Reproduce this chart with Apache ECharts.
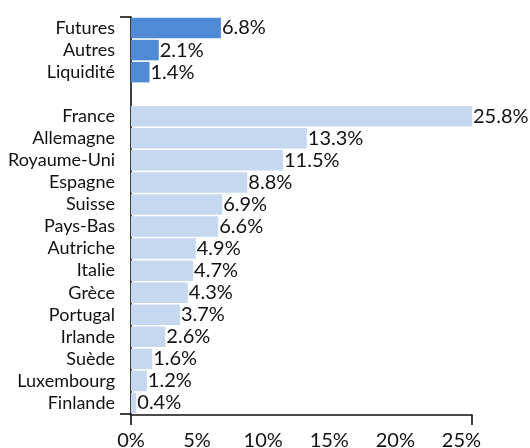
<!DOCTYPE html>
<html>
<head>
<meta charset="utf-8">
<script src="https://cdn.jsdelivr.net/npm/echarts@6/dist/echarts.min.js"></script>
<style>
  html, body { margin: 0; padding: 0; background: #fff; }
  #chart { width: 530px; height: 448px; }
</style>
</head>
<body>
<div id="chart"></div>
<script>
// top block (overlays)
const overlayNames = ['Futures', 'Autres', 'Liquidité'];
const overlayValues = [6.8, 2.1, 1.4];

// countries
const countryNames = ['France', 'Allemagne', 'Royaume-Uni', 'Espagne', 'Suisse', 'Pays-Bas',
  'Autriche', 'Italie', 'Grèce', 'Portugal', 'Irlande', 'Suède', 'Luxembourg', 'Finlande'];
const countryValues = [25.8, 13.3, 11.5, 8.8, 6.9, 6.6, 4.9, 4.7, 4.3, 3.7, 2.6, 1.6, 1.2, 0.4];

const xTicks = [0, 5, 10, 15, 20, 25];

// build the category list with an empty slot between the two blocks
const categories = overlayNames.concat([''], countryNames);
const overlayData = overlayValues.concat(new Array(1 + countryNames.length).fill(null));
const countryData = new Array(overlayNames.length + 1).fill(null).concat(countryValues);
const xMax = Math.max.apply(null, overlayValues.concat(countryValues));

const font = 'Lato';
const ink = '#111';

const valueLabel = {
  show: true,
  position: 'right',
  distance: 1,
  fontFamily: font,
  fontSize: 20,
  color: ink,
  formatter: p => p.value.toFixed(1) + '%'
};

const chart = echarts.init(document.getElementById('chart'));
chart.setOption({
  animation: false,
  grid: { left: 131, right: 58, top: 17, bottom: 34, outerBoundsMode: 'none' },
  xAxis: {
    type: 'value',
    min: 0,
    max: xMax,
    interval: 5,
    offset: 1,
    splitLine: { show: false },
    axisLine: { show: true, lineStyle: { color: ink, width: 1.6 } },
    axisTick: { show: true, length: 10, customValues: [0, xMax], lineStyle: { color: ink, width: 1.6 } },
    axisLabel: {
      customValues: xTicks,
      formatter: '{value}%',
      margin: 16,
      fontFamily: font,
      fontSize: 20,
      color: ink
    }
  },
  yAxis: {
    type: 'category',
    data: categories,
    inverse: true,
    offset: 6,
    axisLine: { show: true, lineStyle: { color: ink, width: 1.6 } },
    axisTick: {
      show: true,
      length: 11,
      interval: idx => idx === 0,
      lineStyle: { color: ink, width: 1.6 }
    },
    axisLabel: {
      interval: 0,
      margin: 10,
      fontFamily: font,
      fontSize: 18,
      color: ink
    }
  },
  series: [
    {
      name: 'Overlays',
      type: 'bar',
      stack: 'all',
      barCategoryGap: '7%',
      data: overlayData,
      itemStyle: { color: '#508ad4' },
      label: valueLabel
    },
    {
      name: 'Pays',
      type: 'bar',
      stack: 'all',
      barCategoryGap: '7%',
      data: countryData,
      itemStyle: { color: '#c5d8f0' },
      label: valueLabel
    }
  ]
});
</script>
</body>
</html>
